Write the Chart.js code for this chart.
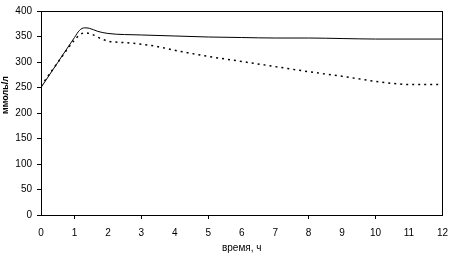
<!DOCTYPE html>
<html>
<head>
<meta charset="utf-8">
<script src="https://cdn.jsdelivr.net/npm/chart.js@4/dist/chart.umd.min.js"></script>
<style>
  html, body { margin: 0; padding: 0; background: #fff; }
  #wrap { width: 456px; height: 259px; }
</style>
</head>
<body>
<div id="wrap"><canvas id="chart" width="456" height="259"></canvas></div>
<script>
// time, hours
const hoursA = [0, 0.5, 1, 1.15, 1.3, 1.45, 1.7, 2, 3, 4, 5, 6, 7, 8, 9, 10, 11, 12];
const solidVals = [250, 299, 348, 362, 367, 366, 360, 356, 353, 351, 349, 348, 347, 347, 346, 345, 345, 345];

const hoursB = [0, 0.5, 1, 1.15, 1.3, 1.5, 1.75, 2, 2.5, 3, 3.5, 4, 5, 6, 7, 8, 9, 10, 10.5, 11, 12];
const dottedVals = [253, 299, 343, 353, 357, 355, 347, 341, 338, 335, 330, 323, 311, 301, 291, 281, 272, 262, 258, 256, 256];

const xTicksMarked = [1, 3, 5, 8, 10];
const yTitle = 'ммоль/л';

function points(xs, ys) {
  return xs.map((x, i) => ({ x: x, y: ys[i] }));
}

// box round the plot area, and the rotated y title
const frame = {
  id: 'frame',
  afterDraw(chart) {
    const a = chart.chartArea;
    const c = chart.ctx;
    c.save();
    c.strokeStyle = '#000';
    c.lineWidth = 1;
    c.strokeRect(Math.round(a.left) + 0.5, Math.round(a.top) + 0.5,
      Math.round(a.right - a.left), Math.round(a.bottom - a.top));
    c.translate(6, 95);
    c.rotate(-Math.PI / 2);
    c.fillStyle = '#000';
    c.font = 'bold 9px "Liberation Sans", Arial, sans-serif';
    c.textAlign = 'center';
    c.textBaseline = 'middle';
    c.fillText(yTitle, 0, 0);
    c.restore();
  }
};

const tickFont = { family: 'Liberation Sans, Arial, sans-serif', size: 10 };

new Chart(document.getElementById('chart'), {
  type: 'line',
  data: {
    datasets: [
      {
        data: points(hoursA, solidVals),
        borderColor: '#000',
        borderWidth: 1,
        pointRadius: 0,
        cubicInterpolationMode: 'monotone'
      },
      {
        data: points(hoursB, dottedVals),
        borderColor: '#000',
        borderWidth: 1.5,
        borderDash: [2, 4],
        pointRadius: 0,
        cubicInterpolationMode: 'monotone'
      }
    ]
  },
  options: {
    responsive: false,
    animation: false,
    layout: { padding: { top: 3, right: 2, left: 0, bottom: 0 } },
    plugins: { legend: { display: false }, tooltip: { enabled: false } },
    scales: {
      x: {
        type: 'linear',
        min: 0,
        max: 12,
        afterFit: s => { s.height = 44; },
        border: { display: true, color: '#000', width: 1 },
        grid: {
          drawOnChartArea: false,
          tickLength: 4,
          tickColor: ctx => xTicksMarked.includes(ctx.tick && ctx.tick.value) ? '#000' : 'rgba(0,0,0,0)'
        },
        ticks: { stepSize: 1, color: '#000', font: tickFont, padding: 8, maxRotation: 0 },
        title: {
          display: true,
          text: 'время, ч',
          color: '#000',
          font: tickFont,
          padding: { top: 0, bottom: 5 }
        }
      },
      y: {
        min: 0,
        max: 400,
        afterFit: s => { s.width = 41; },
        border: { display: true, color: '#000', width: 1 },
        grid: { drawOnChartArea: false, tickLength: 4, tickColor: '#000' },
        ticks: { stepSize: 50, color: '#000', font: tickFont, padding: 5 }
      }
    }
  },
  plugins: [frame]
});
</script>
</body>
</html>
